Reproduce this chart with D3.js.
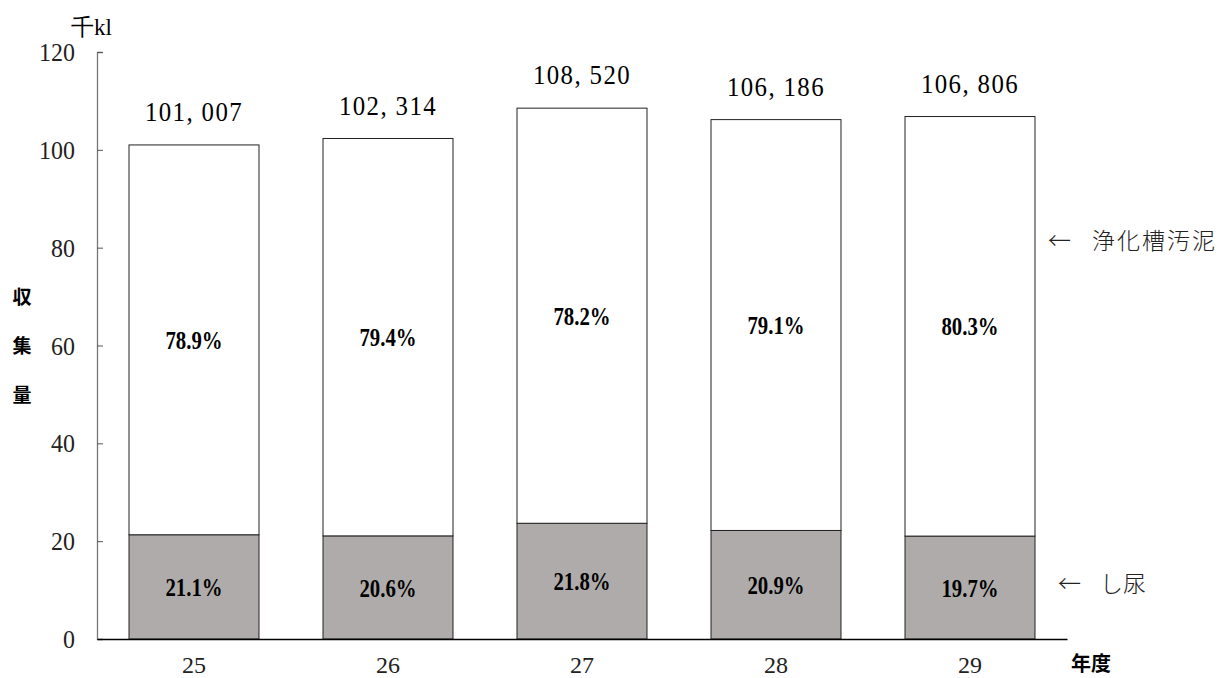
<!DOCTYPE html>
<html>
<head>
<meta charset="utf-8">
<script src="https://cdn.jsdelivr.net/npm/d3@7"></script>
<style>
  body { margin: 0; background: #fff; }
  svg { display: block; }
</style>
</head>
<body>
<div id="chart"></div>
<script>
// Data (thousand kl)
const years = ['25', '26', '27', '28', '29'];
const totals = [101007, 102314, 108520, 106186, 106806];
const shinyo = [21.31, 21.08, 23.66, 22.19, 21.04];
const jokaso = [79.69, 81.24, 84.86, 83.99, 85.77];
const shinyoPct = ['21.1%', '20.6%', '21.8%', '20.9%', '19.7%'];
const jokasoPct = ['78.9%', '79.4%', '78.2%', '79.1%', '80.3%'];
const yTicks = [0, 20, 40, 60, 80, 100, 120];

const W = 1222, H = 678;
const serif = "'Liberation Serif', 'DejaVu Serif', serif";
const cjk = "'Noto Sans CJK JP', sans-serif";

const svg = d3.select('#chart').append('svg')
    .attr('width', W)
    .attr('height', H);

// horizontally squeezed text around its anchor x
function squeeze(sel, x0, k) {
    return sel.attr('transform', `translate(${x0},0) scale(${k},1) translate(${-x0},0)`);
}

// Scales
const x = d3.scaleBand()
    .domain(years)
    .range([97, 1067])
    .paddingInner(0.33)
    .paddingOuter(0.165);

const y = d3.scaleLinear()
    .domain([0, 120])
    .range([639, 52]);

// Bars
const bars = svg.append('g');
years.forEach((yr, i) => {
    const bx = x(yr);
    const bw = x.bandwidth();
    // し尿
    bars.append('rect')
        .attr('x', bx).attr('y', y(shinyo[i]))
        .attr('width', bw).attr('height', y(0) - y(shinyo[i]))
        .attr('fill', '#afabaa')
        .attr('stroke', '#222').attr('stroke-width', 1);
    // 浄化槽汚泥
    bars.append('rect')
        .attr('x', bx).attr('y', y(shinyo[i] + jokaso[i]))
        .attr('width', bw).attr('height', y(shinyo[i]) - y(shinyo[i] + jokaso[i]))
        .attr('fill', '#fff')
        .attr('stroke', '#222').attr('stroke-width', 1);

    const cx = bx + bw / 2;
    squeeze(bars.append('text')
        .attr('x', cx).attr('y', (y(0) + y(shinyo[i])) / 2)
        .attr('dy', '0.35em').attr('text-anchor', 'middle')
        .style('font-family', serif).style('font-size', '26px').style('font-weight', 'bold')
        .text(shinyoPct[i]), cx, 0.8);
    squeeze(bars.append('text')
        .attr('x', cx).attr('y', (y(shinyo[i]) + y(shinyo[i] + jokaso[i])) / 2)
        .attr('dy', '0.35em').attr('text-anchor', 'middle')
        .style('font-family', serif).style('font-size', '26px').style('font-weight', 'bold')
        .text(jokasoPct[i]), cx, 0.8);
    squeeze(bars.append('text')
        .attr('x', cx).attr('y', y(totals[i] / 1000) - 24)
        .attr('text-anchor', 'middle')
        .style('font-family', serif).style('font-size', '27px')
        .style('letter-spacing', '1.5px')
        .text(d3.format(',')(totals[i]).replace(',', ', ')), cx, 0.92);
});

// Y axis
const yAxis = d3.axisRight(y)
    .tickValues(yTicks)
    .tickSize(6)
    .tickFormat('');
const gy = svg.append('g')
    .attr('transform', 'translate(97,0)')
    .call(yAxis);
gy.select('.domain').attr('stroke', '#777').attr('stroke-width', 1.3);
gy.selectAll('.tick line').attr('stroke', '#555');

svg.append('g').selectAll('text')
    .data(yTicks)
    .enter()
    .append('text')
    .attr('x', 75)
    .attr('y', d => y(d))
    .attr('dy', '0.35em')
    .attr('text-anchor', 'end')
    .attr('transform', 'translate(75,0) scale(0.92,1) translate(-75,0)')
    .style('font-family', serif).style('font-size', '26px').style('fill', '#222')
    .text(d => d);

// X axis
const xAxis = d3.axisBottom(x).tickSize(0).tickPadding(17);
const gx = svg.append('g')
    .attr('transform', `translate(0,${y(0)})`)
    .call(xAxis);
gx.select('.domain').attr('stroke', '#000').attr('stroke-width', 1.3);
gx.selectAll('text')
    .style('font-family', serif).style('font-size', '24px').style('fill', '#222');

// Titles and annotations
svg.append('text')
    .attr('x', 71).attr('y', 35)
    .style('font-family', serif).style('font-size', '23px')
    .text('千kl');

['収', '集', '量'].forEach((ch, i) => {
    svg.append('text')
        .attr('x', 22).attr('y', 297 + i * 49)
        .attr('dy', '0.35em').attr('text-anchor', 'middle')
        .style('font-family', cjk).style('font-size', '19px').style('font-weight', 'bold')
        .text(ch);
});

svg.append('text')
    .attr('x', 1071).attr('y', 664)
    .attr('dy', '0.35em')
    .style('font-family', cjk).style('font-size', '20px').style('font-weight', 'bold')
    .text('年度');

const notes = [
    { arrowX: 1048, textX: 1092, y: 241, label: '浄化槽汚泥', spacing: 2 },
    { arrowX: 1058, textX: 1100, y: 584, label: 'し尿', spacing: 0 }
];
notes.forEach(n => {
    svg.append('text')
        .attr('x', n.arrowX).attr('y', n.y)
        .attr('dy', '0.35em')
        .style('font-family', cjk).style('font-size', '23px').style('font-weight', 300).style('fill', '#222')
        .text('←');
    svg.append('text')
        .attr('x', n.textX).attr('y', n.y)
        .attr('dy', '0.35em')
        .style('font-family', cjk).style('font-size', '23px').style('font-weight', 300).style('fill', '#222')
        .style('letter-spacing', n.spacing + 'px')
        .text(n.label);
});
</script>
</body>
</html>
